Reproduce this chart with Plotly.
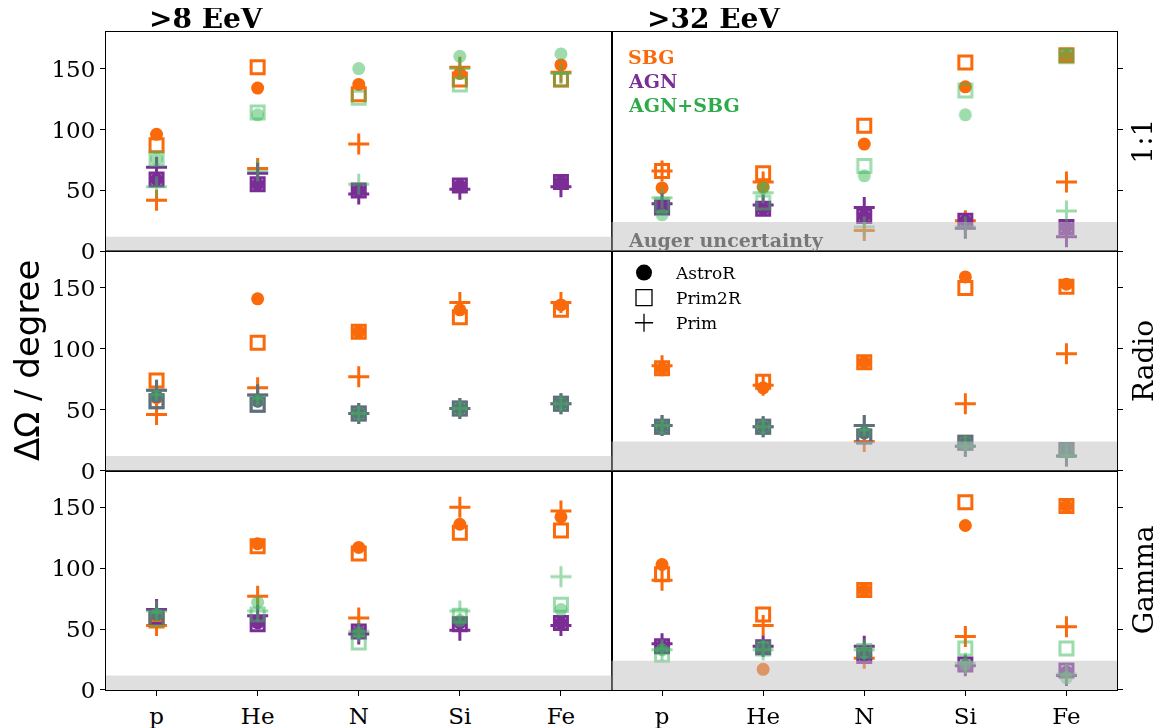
import plotly.graph_objects as go
from plotly.subplots import make_subplots

# ---------------- data ----------------
elements = ["p", "He", "N", "Si", "Fe"]
energy_titles = [">8 EeV", ">32 EeV"]
row_labels = ["1:1", "Radio", "Gamma"]
models = ["SBG", "AGN", "AGN+SBG"]
methods = ["AstroR", "Prim2R", "Prim"]
auger_unc = [12, 24]  # per energy column
y_ticks = [0, 50, 100, 150]

# 1:1, >8 EeV
r1c1_SBG_AstroR = [96, 134, 137, 146, 153]
r1c1_SBG_Prim2R = [87, 151, 129, 141, 141]
r1c1_SBG_Prim = [42, 68, 88, 151, 147]
r1c1_AGN_AstroR = [59, 55, 50, 54, 57]
r1c1_AGN_Prim2R = [59, 55, 50, 54, 57]
r1c1_AGN_Prim = [69, 64, 47, 51, 53]
r1c1_MIX_AstroR = [76, 112, 150, 160, 162]
r1c1_MIX_Prim2R = [76, 114, 126, 137, 141]
r1c1_MIX_Prim = [53, 66, 55, 150, 146]

# 1:1, >32 EeV
r1c2_SBG_AstroR = [52, 53, 88, 135, 160]
r1c2_SBG_Prim2R = [66, 64, 103, 155, 161]
r1c2_SBG_Prim = [66, 57, 17, 25, 57]
r1c2_AGN_AstroR = [36, 35, 29, 25, 20]
r1c2_AGN_Prim2R = [36, 35, 29, 25, 20]
r1c2_AGN_Prim = [39, 38, 36, 19, 12]
r1c2_MIX_AstroR = [30, 52, 62, 112, 162]
r1c2_MIX_Prim2R = [38, 40, 70, 132, 160]
r1c2_MIX_Prim = [44, 48, 20, 20, 33]

# Radio, >8 EeV
r2c1_SBG_AstroR = [60, 141, 114, 132, 136]
r2c1_SBG_Prim2R = [74, 105, 114, 126, 132]
r2c1_SBG_Prim = [46, 68, 77, 138, 138]
r2c1_AGN_AstroR = [61, 57, 47, 51, 55]
r2c1_AGN_Prim2R = [57, 54, 47, 51, 55]
r2c1_AGN_Prim = [66, 62, 47, 51, 55]
r2c1_MIX_AstroR = [61, 57, 47, 51, 55]
r2c1_MIX_Prim2R = [57, 54, 47, 51, 55]
r2c1_MIX_Prim = [66, 62, 47, 51, 55]

# Radio, >32 EeV
r2c2_SBG_AstroR = [84, 68, 89, 159, 153]
r2c2_SBG_Prim2R = [84, 73, 89, 150, 151]
r2c2_SBG_Prim = [86, 70, 24, 55, 96]
r2c2_AGN_AstroR = [36, 36, 31, 23, 17]
r2c2_AGN_Prim2R = [36, 36, 28, 23, 17]
r2c2_AGN_Prim = [37, 36, 37, 20, 12]
r2c2_MIX_AstroR = [36, 36, 31, 23, 17]
r2c2_MIX_Prim2R = [36, 36, 28, 23, 17]
r2c2_MIX_Prim = [37, 36, 37, 20, 12]

# Gamma, >8 EeV
r3c1_SBG_AstroR = [57, 120, 117, 136, 142]
r3c1_SBG_Prim2R = [57, 118, 112, 129, 131]
r3c1_SBG_Prim = [53, 77, 59, 150, 147]
r3c1_AGN_AstroR = [62, 55, 48, 55, 55]
r3c1_AGN_Prim2R = [60, 54, 48, 54, 55]
r3c1_AGN_Prim = [66, 61, 46, 49, 53]
r3c1_MIX_AstroR = [62, 72, 47, 57, 66]
r3c1_MIX_Prim2R = [58, 62, 39, 61, 70]
r3c1_MIX_Prim = [65, 65, 48, 65, 93]

# Gamma, >32 EeV
r3c2_SBG_AstroR = [103, 17, 82, 135, 151]
r3c2_SBG_Prim2R = [95, 62, 82, 154, 151]
r3c2_SBG_Prim = [90, 53, 26, 44, 52]
r3c2_AGN_AstroR = [36, 35, 28, 20, 15]
r3c2_AGN_Prim2R = [36, 35, 28, 21, 16]
r3c2_AGN_Prim = [38, 36, 36, 20, 12]
r3c2_MIX_AstroR = [33, 35, 31, 21, 10]
r3c2_MIX_Prim2R = [29, 34, 32, 34, 34]
r3c2_MIX_Prim = [33, 33, 33, 22, 13]

panels = {
    (1, 1): [[r1c1_SBG_AstroR, r1c1_SBG_Prim2R, r1c1_SBG_Prim],
             [r1c1_AGN_AstroR, r1c1_AGN_Prim2R, r1c1_AGN_Prim],
             [r1c1_MIX_AstroR, r1c1_MIX_Prim2R, r1c1_MIX_Prim]],
    (1, 2): [[r1c2_SBG_AstroR, r1c2_SBG_Prim2R, r1c2_SBG_Prim],
             [r1c2_AGN_AstroR, r1c2_AGN_Prim2R, r1c2_AGN_Prim],
             [r1c2_MIX_AstroR, r1c2_MIX_Prim2R, r1c2_MIX_Prim]],
    (2, 1): [[r2c1_SBG_AstroR, r2c1_SBG_Prim2R, r2c1_SBG_Prim],
             [r2c1_AGN_AstroR, r2c1_AGN_Prim2R, r2c1_AGN_Prim],
             [r2c1_MIX_AstroR, r2c1_MIX_Prim2R, r2c1_MIX_Prim]],
    (2, 2): [[r2c2_SBG_AstroR, r2c2_SBG_Prim2R, r2c2_SBG_Prim],
             [r2c2_AGN_AstroR, r2c2_AGN_Prim2R, r2c2_AGN_Prim],
             [r2c2_MIX_AstroR, r2c2_MIX_Prim2R, r2c2_MIX_Prim]],
    (3, 1): [[r3c1_SBG_AstroR, r3c1_SBG_Prim2R, r3c1_SBG_Prim],
             [r3c1_AGN_AstroR, r3c1_AGN_Prim2R, r3c1_AGN_Prim],
             [r3c1_MIX_AstroR, r3c1_MIX_Prim2R, r3c1_MIX_Prim]],
    (3, 2): [[r3c2_SBG_AstroR, r3c2_SBG_Prim2R, r3c2_SBG_Prim],
             [r3c2_AGN_AstroR, r3c2_AGN_Prim2R, r3c2_AGN_Prim],
             [r3c2_MIX_AstroR, r3c2_MIX_Prim2R, r3c2_MIX_Prim]],
}

# ---------------- style ----------------
PAGE_OFF = 8                      # default body margin of the html page
SCREEN_W, SCREEN_H = 1171, 728
W, H = SCREEN_W - PAGE_OFF, SCREEN_H - PAGE_OFF
# plot area in screen pixels: x 106..1117, y 32..690
L, T = 106 - PAGE_OFF, 32 - PAGE_OFF
R, B = W - (1117 - PAGE_OFF), H - (690 - PAGE_OFF)
PW, PH = W - L - R, H - T - B

model_colors = ["#fa6a0a", "#7b2d96", "#3cb85c"]
model_opacity = [1.0, 1.0, 0.5]
text_colors = ["#fa6a0a", "#7b2d96", "#2eaa4a"]
SERIF = "DejaVu Serif"
SANS = "DejaVu Sans"


def marker_for(method, color):
    if method == "AstroR":
        return dict(symbol="circle", size=13, color=color, line=dict(width=0))
    if method == "Prim2R":
        return dict(symbol="square-open", size=13, color=color,
                    line=dict(width=3, color=color))
    return dict(symbol="cross-thin-open", size=15, color=color,
                line=dict(width=3, color=color))


def px2paper(px, py):
    """screen pixel -> paper coordinate"""
    return (px - PAGE_OFF - L) / PW, (H - B - (py - PAGE_OFF)) / PH


fig = make_subplots(rows=3, cols=2, horizontal_spacing=0, vertical_spacing=0)

for (r, c), pdata in panels.items():
    for mi, model in enumerate(models):
        for ki, method in enumerate(methods):
            fig.add_trace(go.Scatter(
                x=elements, y=pdata[mi][ki], mode="markers",
                marker=marker_for(method, model_colors[mi]),
                opacity=model_opacity[mi], showlegend=False,
                name=f"{model} {method}"), row=r, col=c)

# marker legend (black symbols)
legend_markers = {
    "AstroR": dict(symbol="circle", size=16, color="black"),
    "Prim2R": dict(symbol="square-open", size=16, color="black", line=dict(width=1.3, color="black")),
    "Prim": dict(symbol="cross-thin-open", size=13, color="black", line=dict(width=1.3, color="black")),
}
for name, mk in legend_markers.items():
    fig.add_trace(go.Scatter(x=[None], y=[None], mode="markers", marker=mk,
                             name=name, showlegend=True, legendgroup=name),
                  row=2, col=2)

# axes
for r in range(1, 4):
    for c in range(1, 3):
        fig.update_xaxes(type="category", categoryorder="array", categoryarray=elements,
                         range=[-0.5, 4.5], showline=True, linecolor="black", linewidth=1,
                         mirror=True, showgrid=False, zeroline=False, automargin=False,
                         ticks="outside" if r == 3 else "", ticklen=5, tickcolor="black",
                         showticklabels=(r == 3),
                         tickfont=dict(family=SERIF, size=23, color="black"),
                         row=r, col=c)
        fig.update_yaxes(range=[0, 180], tickvals=y_ticks, showline=True, linecolor="black",
                         linewidth=1, mirror=True, showgrid=False, zeroline=False,
                         automargin=False,
                         ticks="outside", ticklen=5, tickcolor="black",
                         side="left" if c == 1 else "right",
                         showticklabels=(c == 1),
                         tickfont=dict(family=SERIF, size=23, color="black"),
                         row=r, col=c)

# Auger uncertainty bands (above markers, translucent)
for r in range(1, 4):
    for c in range(1, 3):
        idx = (r - 1) * 2 + c
        xa = "x" if idx == 1 else f"x{idx}"
        ya = "y" if idx == 1 else f"y{idx}"
        fig.add_shape(type="rect", xref=f"{xa} domain", yref=ya, x0=0, x1=1,
                      y0=0, y1=auger_unc[c - 1], fillcolor="rgba(191,191,191,0.5)",
                      line=dict(width=0), layer="above")

ann = []
# column titles
for px, txt in zip([147, 645], energy_titles):
    x, y = px2paper(px, 18)
    ann.append(dict(x=x, y=y, xref="paper", yref="paper", text=f"<b>{txt}</b>",
                    showarrow=False, xanchor="left", yanchor="middle",
                    font=dict(family=SERIF, size=28, color="black")))
# row labels
for i, txt in enumerate(row_labels):
    cy = 32 + (690 - 32) / 3 * (i + 0.5)
    x, y = px2paper(1143, cy)
    ann.append(dict(x=x, y=y, xref="paper", yref="paper", text=txt, showarrow=False,
                    textangle=-90, xanchor="center", yanchor="middle",
                    font=dict(family=SERIF, size=28, color="black")))
# y label
x, y = px2paper(27, (32 + 690) / 2)
ann.append(dict(x=x, y=y, xref="paper", yref="paper", text="ΔΩ / degree", showarrow=False,
                textangle=-90, xanchor="center", yanchor="middle",
                font=dict(family=SANS, size=34, color="black")))
# model legend text
for i, (m, col) in enumerate(zip(models, text_colors)):
    x, y = px2paper(626, 57 + 24 * i)
    ann.append(dict(x=x, y=y, xref="paper", yref="paper", text=f"<b>{m}</b>",
                    showarrow=False, xanchor="left", yanchor="middle",
                    font=dict(family=SERIF, size=19, color=col)))
# Auger uncertainty label
x, y = px2paper(626, 240)
ann.append(dict(x=x, y=y, xref="paper", yref="paper", text="<b>Auger uncertainty</b>",
                showarrow=False, xanchor="left", yanchor="middle",
                font=dict(family=SERIF, size=19, color="#777777")))

lx, ly = px2paper(612, 255)
fig.update_layout(
    width=W, height=H, margin=dict(l=L, r=R, t=T, b=B, autoexpand=False),
    paper_bgcolor="white", plot_bgcolor="white",
    annotations=ann,
    showlegend=True,
    legend=dict(x=lx, y=ly, xanchor="left", yanchor="top", bgcolor="rgba(0,0,0,0)",
                font=dict(family=SERIF, size=17, color="black"),
                itemwidth=54, tracegroupgap=0, traceorder="grouped"),
)

fig.write_html("out.html")
